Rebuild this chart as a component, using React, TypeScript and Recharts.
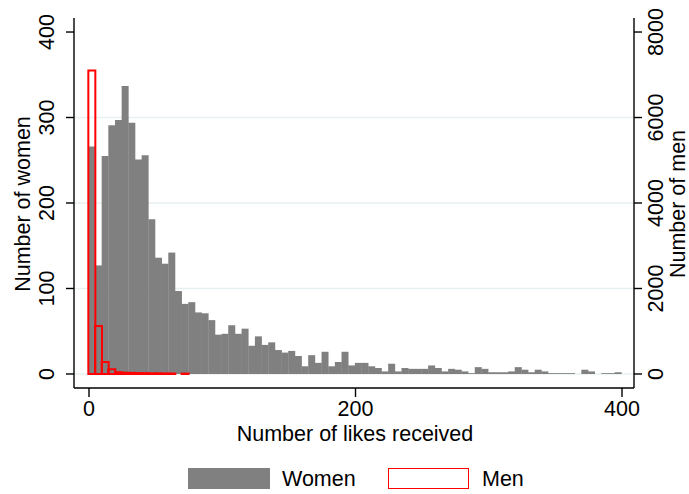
import React from 'react';
import { BarChart, Bar, XAxis, YAxis, CartesianGrid, Legend } from 'recharts';

// bin midpoints (likes received), bins of width 5
const likeBins = [
  2, 7, 12, 17, 22, 27, 32, 37, 42, 47,
  52, 57, 62, 67, 72, 77, 82, 87, 92, 97,
  102, 107, 112, 117, 122, 127, 132, 137, 142, 147,
  152, 157, 162, 167, 172, 177, 182, 187, 192, 197,
  202, 207, 212, 217, 222, 227, 232, 237, 242, 247,
  252, 257, 262, 267, 272, 277, 282, 287, 292, 297,
  302, 307, 312, 317, 322, 327, 332, 337, 342, 347,
  352, 357, 362, 367, 372, 377, 382, 387, 392, 397,
];

const womenCounts = [
  266, 127, 255, 291, 297, 337, 294, 251, 256, 181,
  136, 129, 142, 97, 82, 84, 72, 71, 63, 46,
  47, 57, 47, 53, 33, 44, 34, 37, 28, 25,
  27, 21, 9, 22, 13, 26, 9, 14, 26, 10,
  13, 13, 9, 7, 3, 12, 3, 7, 6, 6,
  6, 10, 7, 3, 6, 5, 3, 1, 8, 6,
  2, 2, 2, 3, 8, 5, 2, 5, 3, 1,
  1, 1, 1, 0, 5, 3, 0, 1, 1, 2,
];

const menCounts: (number | null)[] = [
  7100, 1120, 280, 110, 40, 30, 25, 20, 20, 15,
  15, 12, 10, null, 10, null, null, null, null, null,
];

const xTicks = [0, 200, 400];
const womenTicks = [0, 100, 200, 300, 400];
const menTicks = [0, 2000, 4000, 6000, 8000];
const gridValues = [0, 100, 200, 300];

const data = likeBins.map((b, i) => ({
  bin: b,
  women: womenCounts[i],
  men: i < menCounts.length ? menCounts[i] : null,
}));

const FONT = '"Liberation Sans", Arial, Helvetica, sans-serif';
const FS = 21.5;

const LeftTick = (props: any) => {
  const { y, payload } = props;
  const bx = 54;
  return (
    <text x={bx} y={y} transform={`rotate(-90 ${bx} ${y})`} textAnchor="middle"
      fontFamily={FONT} fontSize={FS} fill="#000">{payload.value}</text>
  );
};

const RightTick = (props: any) => {
  const { y, payload } = props;
  const bx = 663;
  return (
    <text x={bx} y={y} transform={`rotate(-90 ${bx} ${y})`} textAnchor="middle"
      fontFamily={FONT} fontSize={FS} fill="#000">{payload.value}</text>
  );
};

const BottomTick = (props: any) => {
  const { x, payload } = props;
  return (
    <text x={x} y={416} textAnchor="middle" fontFamily={FONT} fontSize={FS} fill="#000">
      {payload.value}
    </text>
  );
};

const LeftTitle = () => (
  <text x={30} y={204} transform="rotate(-90 30 204)" textAnchor="middle"
    fontFamily={FONT} fontSize={FS} fill="#000">Number of women</text>
);

const RightTitle = () => (
  <text x={685} y={204} transform="rotate(-90 685 204)" textAnchor="middle"
    fontFamily={FONT} fontSize={FS} fill="#000">Number of men</text>
);

const BottomTitle = () => (
  <text x={355} y={441} textAnchor="middle" fontFamily={FONT} fontSize={FS} fill="#000">
    Number of likes received
  </text>
);

const LegendContent = () => (
  <div style={{ position: 'relative', width: 689, height: 46, fontFamily: FONT, fontSize: FS, color: '#000' }}>
    <div style={{ position: 'absolute', left: 188, top: 20, width: 82, height: 21, background: '#808080' }} />
    <div style={{ position: 'absolute', left: 282, top: 18, lineHeight: '26px' }}>Women</div>
    <div style={{ position: 'absolute', left: 388, top: 20, width: 79, height: 19, border: '1.5px solid #ff0000', background: '#fff' }} />
    <div style={{ position: 'absolute', left: 482, top: 18, lineHeight: '26px' }}>Men</div>
  </div>
);

export default function App() {
  return (
    <div style={{ position: 'absolute', left: 0, top: 0, width: 689, height: 494, background: '#fff' }}>
      <BarChart
        width={689}
        height={494}
        data={data}
        margin={{ top: 18, right: 0, bottom: 0, left: 0 }}
        barCategoryGap={0}
        barGap={0}
      >
        <CartesianGrid
          xAxisId="x"
          yAxisId="left"
          vertical={false}
          horizontalValues={gridValues}
          stroke="#e9f0f2"
          strokeWidth={1.5}
        />
        <XAxis
          xAxisId="x"
          dataKey="bin"
          type="number"
          domain={[-11.26, 409]}
          allowDataOverflow
          ticks={xTicks}
          interval={0}
          height={60}
          tickSize={9}
          axisLine={{ stroke: '#000', strokeWidth: 1.4 }}
          tickLine={{ stroke: '#000', strokeWidth: 1.4 }}
          tick={<BottomTick />}
          label={<BottomTitle />}
        />
        <XAxis
          xAxisId="x2"
          dataKey="bin"
          type="number"
          domain={[-11.26, 409]}
          allowDataOverflow
          hide
        />
        <YAxis
          yAxisId="left"
          orientation="left"
          width={74}
          type="number"
          domain={[-16.4, 416.4]}
          allowDataOverflow
          ticks={womenTicks}
          interval={0}
          tickSize={8}
          axisLine={{ stroke: '#000', strokeWidth: 1.4 }}
          tickLine={{ stroke: '#000', strokeWidth: 1.4 }}
          tick={<LeftTick />}
          label={<LeftTitle />}
        />
        <YAxis
          yAxisId="right"
          orientation="right"
          width={55}
          type="number"
          domain={[-328, 8328]}
          allowDataOverflow
          ticks={menTicks}
          interval={0}
          tickSize={8}
          axisLine={{ stroke: '#000', strokeWidth: 1.4 }}
          tickLine={{ stroke: '#000', strokeWidth: 1.4 }}
          tick={<RightTick />}
          label={<RightTitle />}
        />
        <Bar
          xAxisId="x"
          yAxisId="left"
          dataKey="women"
          name="Women"
          fill="#808080"
          isAnimationActive={false}
        />
        <Bar
          xAxisId="x2"
          yAxisId="right"
          dataKey="men"
          name="Men"
          fill="none"
          stroke="#ff0000"
          strokeWidth={2}
          isAnimationActive={false}
        />
        <Legend verticalAlign="bottom" content={<LegendContent />} wrapperStyle={{ left: 0, width: 689 }} />
      </BarChart>
    </div>
  );
}
